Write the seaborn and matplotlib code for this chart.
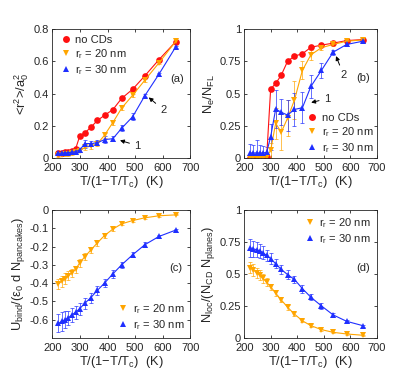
import numpy as np
import pandas as pd
import seaborn as sns
import matplotlib.pyplot as plt
from matplotlib.lines import Line2D

# x axis: T/(1-T/Tc) in K
x = [222, 234, 246, 258, 270, 284, 299, 318, 339, 363, 389, 419, 451, 491, 535, 586, 647]

# (a) <r^2>/a0^2
a_none = [0.03, 0.033, 0.036, 0.04, 0.045, 0.055, 0.135, 0.157, 0.19, 0.233, 0.265, 0.30, 0.37, 0.427, 0.51, 0.61, 0.722]
a_20 = [0.02, 0.022, 0.024, 0.026, 0.03, 0.035, 0.045, 0.066, 0.074, 0.088, 0.142, 0.22, 0.31, 0.39, 0.483, 0.59, 0.724]
a_30 = [0.03, 0.031, 0.032, 0.034, 0.036, 0.04, 0.05, 0.09, 0.09, 0.095, 0.115, 0.12, 0.185, 0.257, 0.387, 0.52, 0.69]
a_none_err = [0.005] * 17
a_20_err = [0.01, 0.01, 0.01, 0.01, 0.01, 0.01, 0.01, 0.015, 0.015, 0.015, 0.015, 0.015, 0.015, 0.01, 0.01, 0.01, 0.005]
a_30_err = [0.01, 0.01, 0.01, 0.01, 0.01, 0.01, 0.015, 0.025, 0.015, 0.015, 0.02, 0.015, 0.02, 0.02, 0.01, 0.01, 0.005]

# (b) Ne/NFL
b_none = [0.0, 0.0, 0.0, 0.0, 0.0, 0.01, 0.535, 0.578, 0.642, 0.75, 0.79, 0.808, 0.858, 0.875, 0.89, 0.91, 0.918]
b_20 = [0.0, 0.0, 0.0, 0.0, 0.0, 0.01, 0.06, 0.27, 0.20, 0.31, 0.45, 0.68, 0.80, 0.855, 0.88, 0.905, 0.915]
b_30 = [0.04, 0.04, 0.04, 0.04, 0.04, 0.045, 0.165, 0.38, 0.355, 0.333, 0.377, 0.39, 0.555, 0.68, 0.82, 0.88, 0.905]
b_none_err = [0.005] * 17
b_20_err = [0.01, 0.01, 0.01, 0.01, 0.01, 0.02, 0.06, 0.12, 0.14, 0.14, 0.15, 0.07, 0.04, 0.02, 0.01, 0.01, 0.005]
b_30_err = [0.07, 0.06, 0.1, 0.06, 0.05, 0.04, 0.1, 0.15, 0.1, 0.12, 0.13, 0.12, 0.09, 0.06, 0.02, 0.01, 0.01]

# (c) binding energy
c_20 = [-0.405, -0.39, -0.375, -0.36, -0.345, -0.325, -0.29, -0.255, -0.22, -0.18, -0.14, -0.105, -0.076, -0.058, -0.043, -0.032, -0.027]
c_30 = [-0.62, -0.61, -0.60, -0.59, -0.575, -0.56, -0.54, -0.51, -0.48, -0.44, -0.40, -0.35, -0.30, -0.245, -0.19, -0.145, -0.11]
c_20_err = [0.03, 0.03, 0.028, 0.025, 0.022, 0.02, 0.02, 0.018, 0.016, 0.015, 0.012, 0.01, 0.008, 0.006, 0.005, 0.004, 0.003]
c_30_err = [0.05, 0.05, 0.045, 0.04, 0.038, 0.035, 0.032, 0.03, 0.028, 0.025, 0.022, 0.02, 0.018, 0.015, 0.012, 0.01, 0.008]

# (d) localized fraction
d_20 = [0.55, 0.53, 0.51, 0.49, 0.465, 0.435, 0.40, 0.35, 0.297, 0.24, 0.186, 0.134, 0.096, 0.065, 0.044, 0.031, 0.021]
d_30 = [0.705, 0.695, 0.69, 0.68, 0.665, 0.645, 0.62, 0.58, 0.535, 0.495, 0.457, 0.385, 0.318, 0.25, 0.18, 0.13, 0.096]
d_20_err = [0.045, 0.045, 0.04, 0.04, 0.035, 0.03, 0.025, 0.022, 0.02, 0.018, 0.015, 0.012, 0.01, 0.008, 0.006, 0.005, 0.004]
d_30_err = [0.07, 0.065, 0.06, 0.055, 0.05, 0.045, 0.04, 0.035, 0.035, 0.035, 0.03, 0.03, 0.025, 0.02, 0.015, 0.01, 0.008]

labels = ['no CDs', r'r$_r$ = 20 nm', r'r$_r$ = 30 nm']
colors = {'no CDs': '#ff1010', r'r$_r$ = 20 nm': '#ffa500', r'r$_r$ = 30 nm': '#1f2fff'}
markers = {'no CDs': 'o', r'r$_r$ = 20 nm': 'v', r'r$_r$ = 30 nm': '^'}

sns.set_theme(style='ticks')
plt.rcParams['font.family'] = ['Liberation Sans', 'DejaVu Sans']
plt.rcParams['mathtext.fontset'] = 'custom'
plt.rcParams['mathtext.rm'] = 'Liberation Sans'
plt.rcParams['mathtext.default'] = 'regular'
plt.rcParams['font.size'] = 8

FS_TICK = 8
FS_LAB = 9.3
FS_LEG = 8

fig = plt.figure(figsize=(4.15, 3.81), dpi=100)
axa = fig.add_axes([0.126, 0.585, 0.333, 0.339])
axb = fig.add_axes([0.589, 0.585, 0.319, 0.339])
axc = fig.add_axes([0.126, 0.113, 0.333, 0.336])
axd = fig.add_axes([0.589, 0.113, 0.319, 0.336])


def draw(ax, series):
    rows = []
    for lab, ys, es in series:
        for xi, yi, ei in zip(x, ys, es):
            rows.append({'x': xi, 'y': yi, 'err': ei, 'case': lab})
    df = pd.DataFrame(rows)
    for lab, g in df.groupby('case', sort=False):
        ax.errorbar(g['x'], g['y'], yerr=g['err'], fmt='none', ecolor=colors[lab],
                    elinewidth=0.6, capsize=1.2, capthick=0.6, alpha=0.8, zorder=1)
    sns.lineplot(data=df, x='x', y='y', hue='case', style='case', palette=colors,
                 markers=markers, dashes=False, markersize=4.8, markeredgewidth=0,
                 linewidth=0.8, ax=ax, legend=False, zorder=2)
    ax.set_xlim(200, 700)
    ax.set_xticks([200, 300, 400, 500, 600, 700])
    ax.set_xlabel(r'T/(1$-$T/T$_c$)  (K)', fontsize=FS_LAB, labelpad=1)
    ax.tick_params(direction='in', top=True, right=True, labelsize=FS_TICK, length=2.5, width=0.6, pad=2.5)
    ax.tick_params(axis='x', pad=3.5)
    for s in ax.spines.values():
        s.set_linewidth(0.6)


def leg(ax, labs, **kw):
    h = [Line2D([], [], ls='none', marker=markers[l], color=colors[l], markersize=5, markeredgewidth=0) for l in labs]
    ax.legend(h, labs, frameon=False, fontsize=FS_LEG, handletextpad=0.2, labelspacing=0.2,
              handlelength=1.3, borderpad=0.25, **kw)


arr = dict(arrowstyle='-|>', color='black', lw=0.7, mutation_scale=6, shrinkA=1, shrinkB=0)

draw(axa, [(labels[0], a_none, a_none_err), (labels[1], a_20, a_20_err), (labels[2], a_30, a_30_err)])
axa.set_ylim(0, 0.8)
axa.set_yticks([0, 0.2, 0.4, 0.6, 0.8])
axa.set_yticklabels(['0', '0.2', '0.4', '0.6', '0.8'])
axa.set_ylabel(r'<r$^2$>/a$_0^2$', fontsize=FS_LAB, labelpad=2)
leg(axa, labels, loc='upper left', borderaxespad=0.3)
axa.text(652, 0.49, '(a)', fontsize=FS_LEG, ha='center', va='center')
axa.annotate('1', xy=(445, 0.11), xytext=(507, 0.078), fontsize=FS_LEG, ha='center', va='center', arrowprops=arr)
axa.annotate('2', xy=(549, 0.376), xytext=(601, 0.30), fontsize=FS_LEG, ha='center', va='center', arrowprops=arr)

draw(axb, [(labels[0], b_none, b_none_err), (labels[1], b_20, b_20_err), (labels[2], b_30, b_30_err)])
axb.set_ylim(0, 1)
axb.set_yticks([0, 0.25, 0.5, 0.75, 1])
axb.set_yticklabels(['0', '0.25', '0.5', '0.75', '1'])
axb.set_ylabel(r'N$_e$/N$_{FL}$', fontsize=FS_LAB, labelpad=2)
leg(axb, labels, loc='lower right', borderaxespad=0.05)
axb.text(647, 0.62, '(b)', fontsize=FS_LEG, ha='center', va='center')
axb.annotate('1', xy=(452, 0.43), xytext=(511, 0.46), fontsize=FS_LEG, ha='center', va='center', arrowprops=arr)
axb.annotate('2', xy=(546, 0.79), xytext=(574, 0.646), fontsize=FS_LEG, ha='center', va='center', arrowprops=arr)

draw(axc, [(labels[1], c_20, c_20_err), (labels[2], c_30, c_30_err)])
axc.set_ylim(-0.7, 0)
axc.set_yticks([0, -0.1, -0.2, -0.3, -0.4, -0.5, -0.6])
axc.set_yticklabels(['0', '-0.1', '-0.2', '-0.3', '-0.4', '-0.5', '-0.6'])
axc.set_ylabel(r'U$_{bind}$/($\epsilon_0$ d N$_{pancakes}$)', fontsize=FS_LAB, labelpad=2)
leg(axc, labels[1:], loc='lower right', borderaxespad=0.3)
axc.text(647, -0.32, '(c)', fontsize=FS_LEG, ha='center', va='center')

draw(axd, [(labels[1], d_20, d_20_err), (labels[2], d_30, d_30_err)])
axd.set_ylim(0, 1)
axd.set_yticks([0, 0.25, 0.5, 0.75, 1])
axd.set_yticklabels(['0', '0.25', '0.5', '0.75', '1'])
axd.set_ylabel(r'N$_{loc}$/(N$_{CD}$ N$_{planes}$)', fontsize=FS_LAB, labelpad=2)
leg(axd, labels[1:], loc='upper right', borderaxespad=0.3)
axd.text(647, 0.55, '(d)', fontsize=FS_LEG, ha='center', va='center')

fig.savefig('out.png', dpi=100)
